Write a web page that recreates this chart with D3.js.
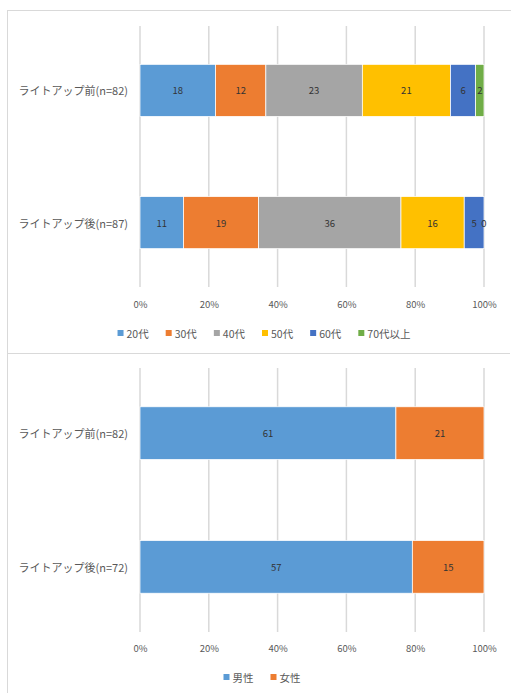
<!DOCTYPE html>
<html>
<head>
<meta charset="utf-8">
<script src="https://cdn.jsdelivr.net/npm/d3@7"></script>
<style>
  html, body { margin: 0; padding: 0; background: #fff; }
  svg { display: block; }
  text { font-family: "Noto Sans CJK JP", "Noto Sans", sans-serif; }
</style>
</head>
<body>
<script>
// Respondent counts by age group, before / after the light-up
const ageCategories = ["ライトアップ前(n=82)", "ライトアップ後(n=87)"];
const ageGroups = ["20代", "30代", "40代", "50代", "60代", "70代以上"];
const ageValues = [
  [18, 12, 23, 21, 6, 2],
  [11, 19, 36, 16, 5, 0]
];
const ageColors = ["#5B9BD5", "#ED7D31", "#A5A5A5", "#FFC000", "#4472C4", "#70AD47"];

// Respondent counts by gender
const genderCategories = ["ライトアップ前(n=82)", "ライトアップ後(n=72)"];
const genderGroups = ["男性", "女性"];
const genderValues = [
  [61, 21],
  [57, 15]
];
const genderColors = ["#5B9BD5", "#ED7D31"];

const tickValues = [0, 0.2, 0.4, 0.6, 0.8, 1.0];

const W = 511, H = 693;
const svg = d3.select("body").append("svg").attr("width", W).attr("height", H);

// outer frames of the two chart areas
const frame = svg.append("g").attr("fill", "none").attr("stroke", "#D9D9D9").attr("stroke-width", 1);
frame.append("line").attr("x1", 7.5).attr("x2", 7.5).attr("y1", 10).attr("y2", H);
frame.append("line").attr("x1", 7).attr("x2", W).attr("y1", 10.5).attr("y2", 10.5);
frame.append("line").attr("x1", 7).attr("x2", 510).attr("y1", 353.5).attr("y2", 353.5);

const x = d3.scaleLinear().domain([0, 1]).range([140, 484]);

function drawChart(cfg) {
  const g = svg.append("g");
  const keys = cfg.groups.map((_, i) => i);
  const rows = cfg.values.map((vals, r) => {
    const total = d3.sum(vals);
    const o = { cat: cfg.categories[r], total };
    vals.forEach((v, i) => { o[i] = v / total; o["raw" + i] = v; });
    return o;
  });

  const y = d3.scaleBand()
    .domain(cfg.categories)
    .range([cfg.top, cfg.bottom])
    .paddingInner(0.606)
    .paddingOuter(0.29);

  // vertical gridlines
  g.append("g").selectAll("line").data(tickValues).join("line")
    .attr("x1", d => x(d)).attr("x2", d => x(d))
    .attr("y1", cfg.top).attr("y2", cfg.bottom)
    .attr("stroke", "#D9D9D9").attr("stroke-width", 1.5);

  const series = d3.stack().keys(keys)(rows);

  const layers = g.append("g").selectAll("g").data(series).join("g")
    .attr("fill", d => cfg.colors[d.key]);
  layers.selectAll("rect").data(d => d).join("rect")
    .attr("x", d => x(d[0]))
    .attr("width", d => Math.max(0, x(d[1]) - x(d[0])))
    .attr("y", d => y(d.data.cat))
    .attr("height", y.bandwidth())
    .attr("stroke", "#fff").attr("stroke-width", 0.75);

  // value labels at the middle of each segment
  const labels = g.append("g");
  series.forEach(s => {
    s.forEach(d => {
      labels.append("text")
        .attr("x", x((d[0] + d[1]) / 2))
        .attr("y", y(d.data.cat) + y.bandwidth() / 2)
        .attr("text-anchor", "middle")
        .attr("dominant-baseline", "central")
        .attr("font-size", 9.5)
        .attr("fill", "#333333")
        .text(d.data["raw" + s.key]);
    });
  });

  // category axis labels
  g.append("g").selectAll("text").data(cfg.categories).join("text")
    .attr("x", 128)
    .attr("y", d => y(d) + y.bandwidth() / 2)
    .attr("text-anchor", "end")
    .attr("dominant-baseline", "central")
    .attr("font-size", 11)
    .attr("fill", "#595959")
    .text(d => d);

  // percentage axis
  const axis = g.append("g")
    .attr("transform", `translate(0,${cfg.tickY})`)
    .call(d3.axisBottom(x).tickValues(tickValues).tickFormat(d3.format(".0%")).tickSize(0));
  axis.select(".domain").remove();
  axis.selectAll("text")
    .attr("font-family", "\"Noto Sans CJK JP\", \"Noto Sans\", sans-serif")
    .attr("font-size", 9.5)
    .attr("fill", "#595959")
    .attr("dy", null)
    .attr("y", 0)
    .attr("dominant-baseline", "central");

  // legend, centred under the chart
  const leg = g.append("g");
  const items = cfg.groups.map((name, i) => {
    const it = leg.append("g");
    it.append("rect").attr("width", 6).attr("height", 6).attr("y", -3).attr("fill", cfg.colors[i]);
    const t = it.append("text").attr("x", 9).attr("dominant-baseline", "central")
      .attr("font-size", 10.5).attr("fill", "#595959").text(name);
    return { it, w: 9 + t.node().getComputedTextLength() };
  });
  const gap = cfg.legendGap;
  const totalW = d3.sum(items, d => d.w) + gap * (items.length - 1);
  let cx = cfg.legendCx - totalW / 2;
  items.forEach(d => {
    d.it.attr("transform", `translate(${cx},${cfg.legendY})`);
    cx += d.w + gap;
  });
}

drawChart({
  categories: ageCategories, groups: ageGroups, values: ageValues, colors: ageColors,
  top: 26, bottom: 287, tickY: 304, legendY: 333, legendCx: 264, legendGap: 17
});

drawChart({
  categories: genderCategories, groups: genderGroups, values: genderValues, colors: genderColors,
  top: 368, bottom: 632, tickY: 648, legendY: 677, legendCx: 262, legendGap: 17
});
</script>
</body>
</html>
